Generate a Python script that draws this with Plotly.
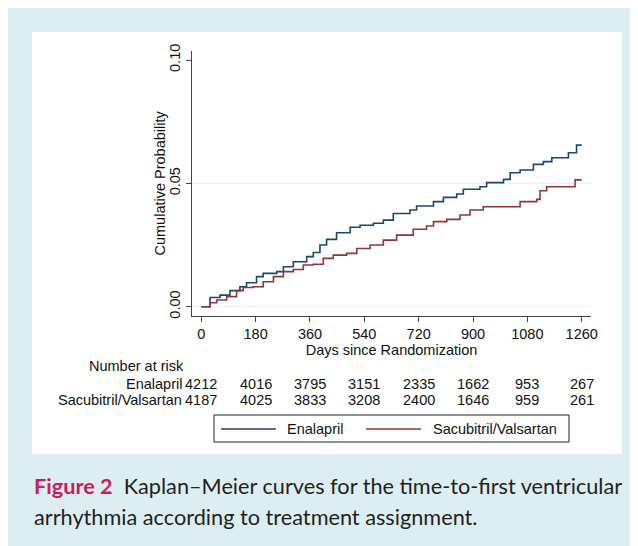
import plotly.graph_objects as go

# ---------------- data ----------------
enal_days = [0, 29, 62, 95, 128, 150, 183, 205, 250, 272, 305, 349, 371, 393, 415, 448,
             493, 526, 570, 603, 636, 691, 713, 769, 802, 846, 868, 923, 945, 1001,
             1023, 1056, 1100, 1133, 1161, 1216, 1243, 1260]
enal_prob = [0.0, 0.0037, 0.0047, 0.0065, 0.0081, 0.0097, 0.0122, 0.0135, 0.0142, 0.0162,
             0.0182, 0.0203, 0.0220, 0.0250, 0.0273, 0.0300, 0.0322, 0.0330, 0.0338,
             0.0351, 0.0378, 0.0392, 0.0408, 0.0426, 0.0443, 0.0457, 0.0476, 0.0486,
             0.0503, 0.0516, 0.0543, 0.0554, 0.0577, 0.0588, 0.0604, 0.0624, 0.0655, 0.0655]

sv_days = [0, 29, 51, 84, 117, 139, 172, 205, 239, 272, 305, 338, 371, 404, 437, 481,
           515, 559, 603, 647, 702, 746, 769, 813, 857, 890, 934, 1056, 1111, 1122,
           1144, 1238, 1260]
sv_prob = [0.0, 0.0016, 0.0027, 0.0041, 0.0065, 0.0078, 0.0081, 0.0101, 0.0122, 0.0142,
           0.0151, 0.0169, 0.0172, 0.0196, 0.0209, 0.0216, 0.0236, 0.0250, 0.0270,
           0.0290, 0.0314, 0.0327, 0.0345, 0.0354, 0.0372, 0.0392, 0.0405, 0.0426,
           0.0435, 0.0470, 0.0486, 0.0514, 0.0514]

risk_days = [0, 180, 360, 540, 720, 900, 1080, 1260]
enal_risk = [4212, 4016, 3795, 3151, 2335, 1662, 953, 267]
sv_risk = [4187, 4025, 3833, 3208, 2400, 1646, 959, 261]

y_ticks = [0.0, 0.05, 0.10]
y_tick_labels = ["0.00", "0.05", "0.10"]
y_grid = [0.0, 0.05]

series_names = ["Enalapril", "Sacubitril/Valsartan"]
BLUE = "#1a476f"
RED = "#90353b"

# ---------------- layout geometry (screen pixels; page body has an 8px offset) ----------------
OFF = 8
W, H = 638, 546
SL, SR, ST, SB = 192, 591, 51, 316          # plot area in screen pixels
L, R, T, B = SL - OFF, SR - OFF, ST - OFF, SB - OFF


def px(xs):
    return (xs - SL) / (SR - SL)


def py(ys):
    return (SB - ys) / (SB - ST)


FONT = "Liberation Sans, Arial, sans-serif"
FS = 14.5
TXT = "#111111"

fig = go.Figure()
fig.add_trace(go.Scatter(x=enal_days, y=enal_prob, mode="lines", line_shape="hv",
                         line=dict(color=BLUE, width=1.6), name=series_names[0],
                         showlegend=False))
fig.add_trace(go.Scatter(x=sv_days, y=sv_prob, mode="lines", line_shape="hv",
                         line=dict(color=RED, width=1.6), name=series_names[1],
                         showlegend=False))

shapes = [
    # white figure panel
    dict(type="rect", xref="paper", yref="paper", x0=px(32), x1=px(622), y0=py(32), y1=py(454),
         fillcolor="white", line=dict(width=0), layer="below"),
    # legend box
    dict(type="rect", xref="paper", yref="paper", x0=px(214), x1=px(569), y0=py(415), y1=py(442),
         fillcolor="rgba(0,0,0,0)", line=dict(color="#222222", width=1)),
    dict(type="line", xref="paper", yref="paper", x0=px(221), x1=px(276), y0=py(429), y1=py(429),
         line=dict(color=BLUE, width=1.3)),
    dict(type="line", xref="paper", yref="paper", x0=px(366), x1=px(421), y0=py(429), y1=py(429),
         line=dict(color=RED, width=1.3)),
]
# horizontal grid lines (Stata draws them at the inner ticks only)
for g in y_grid:
    shapes.append(dict(type="line", xref="paper", yref="y", x0=0, x1=1, y0=g, y1=g,
                       line=dict(color="#e6eff1", width=1), layer="below"))

ann = []
# legend labels
ann.append(dict(text=series_names[0], xref="paper", yref="paper", x=px(285), y=py(429),
                xanchor="left", yanchor="middle", showarrow=False,
                font=dict(family=FONT, size=FS, color=TXT)))
ann.append(dict(text=series_names[1], xref="paper", yref="paper", x=px(431), y=py(429),
                xanchor="left", yanchor="middle", showarrow=False,
                font=dict(family=FONT, size=FS, color=TXT)))
# y-axis title
ann.append(dict(text="Cumulative Probability", xref="paper", yref="paper", x=px(159), y=py(183.5),
                xanchor="center", yanchor="middle", textangle=-90, showarrow=False,
                font=dict(family=FONT, size=FS, color=TXT)))
# number at risk table
ann.append(dict(text="Number at risk", xref="paper", yref="paper", x=px(87), y=py(366),
                xanchor="left", yanchor="middle", showarrow=False,
                font=dict(family=FONT, size=FS, color=TXT)))
for name, yy in zip(series_names, [384, 400]):
    ann.append(dict(text=name, xref="paper", yref="paper", x=px(184), y=py(yy),
                    xanchor="right", yanchor="middle", showarrow=False,
                    font=dict(family=FONT, size=FS, color=TXT)))
for vals, yy in zip([enal_risk, sv_risk], [384, 400]):
    for d, v in zip(risk_days, vals):
        ann.append(dict(text=str(v), xref="x", yref="paper", x=d, y=py(yy),
                        xanchor="center", yanchor="middle", showarrow=False,
                        font=dict(family=FONT, size=FS, color=TXT)))
# caption
CAP_FONT = "Lato, Open Sans, sans-serif"
CAP_FS = 21.7
ann.append(dict(text="<b><span style='color:#cf1a59'>Figure 2</span></b>\u00a0\u00a0Kaplan\u2013Meier curves for the time-to-first ventricular",
                xref="paper", yref="paper", x=px(32), y=py(486), xanchor="left", yanchor="middle",
                showarrow=False, font=dict(family=CAP_FONT, size=CAP_FS, color="#231f20")))
ann.append(dict(text="arrhythmia according to treatment assignment.",
                xref="paper", yref="paper", x=px(32), y=py(517), xanchor="left", yanchor="middle",
                showarrow=False, font=dict(family=CAP_FONT, size=CAP_FS, color="#231f20")))

fig.update_layout(
    width=W, height=H,
    margin=dict(l=L, r=W - R, t=T, b=H - B, pad=0, autoexpand=False),
    paper_bgcolor="#ddeef3", plot_bgcolor="white",
    showlegend=False,
    shapes=shapes, annotations=ann,
    xaxis=dict(range=[-30.8, 1290.8], tickvals=risk_days, ticktext=[str(d) for d in risk_days],
               showgrid=False, zeroline=False, showline=True, linecolor="#444444", linewidth=1,
               ticks="outside", ticklen=5, tickcolor="#444444", tickwidth=1,
               tickfont=dict(family=FONT, size=FS, color=TXT),
               title=dict(text="Days since Randomization", standoff=3,
                          font=dict(family=FONT, size=FS, color=TXT))),
    yaxis=dict(range=[-0.00377, 0.10365], tickvals=y_ticks, ticktext=y_tick_labels,
               tickangle=-90,
               showgrid=False, zeroline=False,
               showline=True, linecolor="#444444", linewidth=1,
               ticks="outside", ticklen=5, tickcolor="#444444", tickwidth=1,
               tickfont=dict(family=FONT, size=FS, color=TXT)),
)

fig.write_html("out.html")
